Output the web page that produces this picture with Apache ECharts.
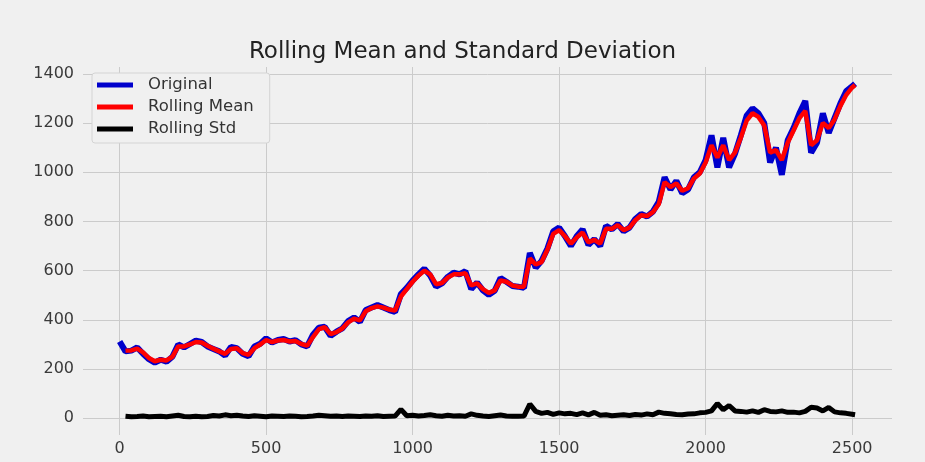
<!DOCTYPE html>
<html>
<head>
<meta charset="utf-8">
<script src="https://cdn.jsdelivr.net/npm/echarts@6/dist/echarts.min.js"></script>
<style>
  html, body { margin: 0; padding: 0; background: #f0f0f0; }
  #chart { width: 925px; height: 462px; }
</style>
</head>
<body>
<div id="chart"></div>
<script>
// Sample positions (trading-day index) for all three series
const dayIndex = [
  0, 20, 40, 60, 80, 100, 120, 140, 160, 180, 200, 220, 240, 260, 280, 300, 320, 340, 360, 380,
  400, 420, 440, 460, 480, 500, 520, 540, 560, 580, 600, 620, 640, 660, 680, 700, 720, 740, 760, 780,
  800, 820, 840, 860, 880, 900, 920, 940, 960, 980, 1000, 1020, 1040, 1060, 1080, 1100, 1120, 1140, 1160, 1180,
  1200, 1220, 1240, 1260, 1280, 1300, 1320, 1340, 1360, 1380, 1400, 1420, 1440, 1460, 1480, 1500, 1520, 1540, 1560, 1580,
  1600, 1620, 1640, 1660, 1680, 1700, 1720, 1740, 1760, 1780, 1800, 1820, 1840, 1860, 1880, 1900, 1920, 1940, 1960, 1980,
  2000, 2020, 2040, 2060, 2080, 2100, 2120, 2140, 2160, 2180, 2200, 2220, 2240, 2260, 2280, 2300, 2320, 2340, 2360, 2380,
  2400, 2420, 2440, 2460, 2480, 2500, 2510
];

// Closing price
const original = [
  312, 272, 275, 288, 262, 240, 226, 238, 230, 250, 300, 288, 302, 316, 310, 292, 282, 272, 255, 290,
  285, 262, 252, 292, 303, 325, 308, 318, 322, 312, 318, 300, 292, 340, 368, 372, 335, 352, 365, 395,
  410, 392, 440, 450, 460, 450, 440, 432, 505, 530, 560, 585, 608, 580, 535, 548, 575, 592, 585, 598,
  525, 552, 520, 502, 518, 570, 555, 538, 535, 530, 672, 612, 640, 690, 760, 775, 740, 700, 740, 768,
  705, 728, 700, 782, 768, 790, 760, 775, 810, 830, 820, 840, 880, 980, 930, 965, 915, 930, 980, 1000,
  1050, 1150, 1020, 1140, 1020, 1075, 1150, 1230, 1260, 1240, 1200, 1040, 1100, 990, 1130, 1180, 1240, 1290, 1080, 1120,
  1240, 1160, 1220, 1280, 1330, 1350, 1360
];

// 12-day rolling mean
const rollingMean = [
  null, 275, 276, 283, 268, 245, 232, 238, 235, 250, 292, 292, 300, 310, 308, 295, 283, 272, 262, 282,
  285, 265, 258, 285, 300, 318, 310, 316, 318, 312, 314, 302, 295, 330, 362, 370, 342, 350, 365, 390,
  405, 398, 435, 448, 455, 450, 442, 438, 495, 525, 555, 580, 600, 585, 545, 550, 572, 585, 585, 590,
  540, 548, 525, 510, 520, 560, 555, 540, 535, 535, 650, 625, 635, 685, 750, 765, 740, 710, 735, 755,
  715, 725, 710, 770, 770, 785, 765, 775, 805, 825, 822, 838, 870, 960, 940, 955, 925, 935, 975, 995,
  1040, 1110, 1060, 1110, 1050, 1080, 1140, 1210, 1240, 1225, 1190, 1080, 1090, 1050, 1120, 1170, 1220, 1250, 1110, 1130,
  1200, 1180, 1215, 1270, 1315, 1345, 1355
];

// 12-day rolling standard deviation
const rollingStd = [
  null, 8, 6, 7, 9, 6, 7, 8, 6, 9, 12, 7, 6, 8, 6, 7, 11, 9, 14, 10,
  12, 9, 7, 10, 8, 6, 9, 8, 7, 9, 8, 6, 7, 9, 12, 10, 8, 9, 7, 9,
  8, 7, 9, 8, 10, 7, 8, 9, 36, 10, 12, 9, 11, 14, 10, 8, 12, 9, 10, 8,
  18, 12, 9, 7, 10, 13, 9, 8, 8, 9, 58, 28, 20, 24, 16, 22, 18, 20, 15, 22,
  14, 24, 12, 14, 10, 12, 14, 11, 15, 13, 18, 14, 25, 20, 18, 15, 14, 17, 18, 22,
  24, 30, 60, 35, 52, 30, 28, 25, 30, 24, 35, 28, 26, 30, 24, 25, 22, 28, 45, 42,
  30, 44, 26, 22, 20, 16, 14
];

const xTicks = [0, 500, 1000, 1500, 2000, 2500];
const yTicks = [0, 200, 400, 600, 800, 1000, 1200, 1400];

const pairs = (vals) => dayIndex.map((d, i) => [d, vals[i]]);

const font = 'DejaVu Sans';
const gridColor = '#cbcbcb';
const plain = (v) => String(v);

const chart = echarts.init(document.getElementById('chart'), null, { renderer: 'canvas' });
chart.setOption({
  animation: false,
  backgroundColor: '#f0f0f0',
  title: {
    text: 'Rolling Mean and Standard Deviation',
    left: 'center',
    top: 36,
    textStyle: { fontFamily: font, fontSize: 23, fontWeight: 'normal', color: '#222' }
  },
  legend: {
    orient: 'vertical',
    left: 92,
    top: 73,
    icon: 'rect',
    itemWidth: 36,
    itemHeight: 5,
    itemGap: 4,
    padding: [3, 16, 5, 5],
    backgroundColor: '#f0f0f0',
    borderColor: '#d4d4d4',
    borderWidth: 1,
    borderRadius: 3,
    textStyle: { fontFamily: font, fontSize: 16.5, lineHeight: 18, color: '#333', padding: [0, 0, 0, 10] },
    data: ['Original', 'Rolling Mean', 'Rolling Std']
  },
  grid: { left: 83, right: 33, top: 67, bottom: 27, containLabel: false },
  xAxis: {
    type: 'value',
    min: -125,
    max: 2636,
    axisLine: { show: false },
    axisTick: { show: false, customValues: xTicks },
    axisLabel: { customValues: xTicks, formatter: plain, fontFamily: font, fontSize: 16, color: '#3a3a3a', margin: 6 },
    splitLine: { show: true, lineStyle: { color: gridColor, width: 1 } }
  },
  yAxis: {
    type: 'value',
    min: -68,
    max: 1428,
    axisLine: { show: false },
    axisTick: { show: false, customValues: yTicks },
    axisLabel: { customValues: yTicks, formatter: plain, fontFamily: font, fontSize: 16, color: '#3a3a3a', margin: 9 },
    splitLine: { show: true, lineStyle: { color: gridColor, width: 1 } }
  },
  series: [
    {
      name: 'Original', type: 'line', data: pairs(original), showSymbol: false, symbol: 'none',
      color: '#0000cc', lineStyle: { color: '#0000cc', width: 6 }
    },
    {
      name: 'Rolling Mean', type: 'line', data: pairs(rollingMean), showSymbol: false, symbol: 'none',
      color: '#ff0000', lineStyle: { color: '#ff0000', width: 4.5 }
    },
    {
      name: 'Rolling Std', type: 'line', data: pairs(rollingStd), showSymbol: false, symbol: 'none',
      color: '#000000', lineStyle: { color: '#000000', width: 5 }
    }
  ]
});
</script>
</body>
</html>
